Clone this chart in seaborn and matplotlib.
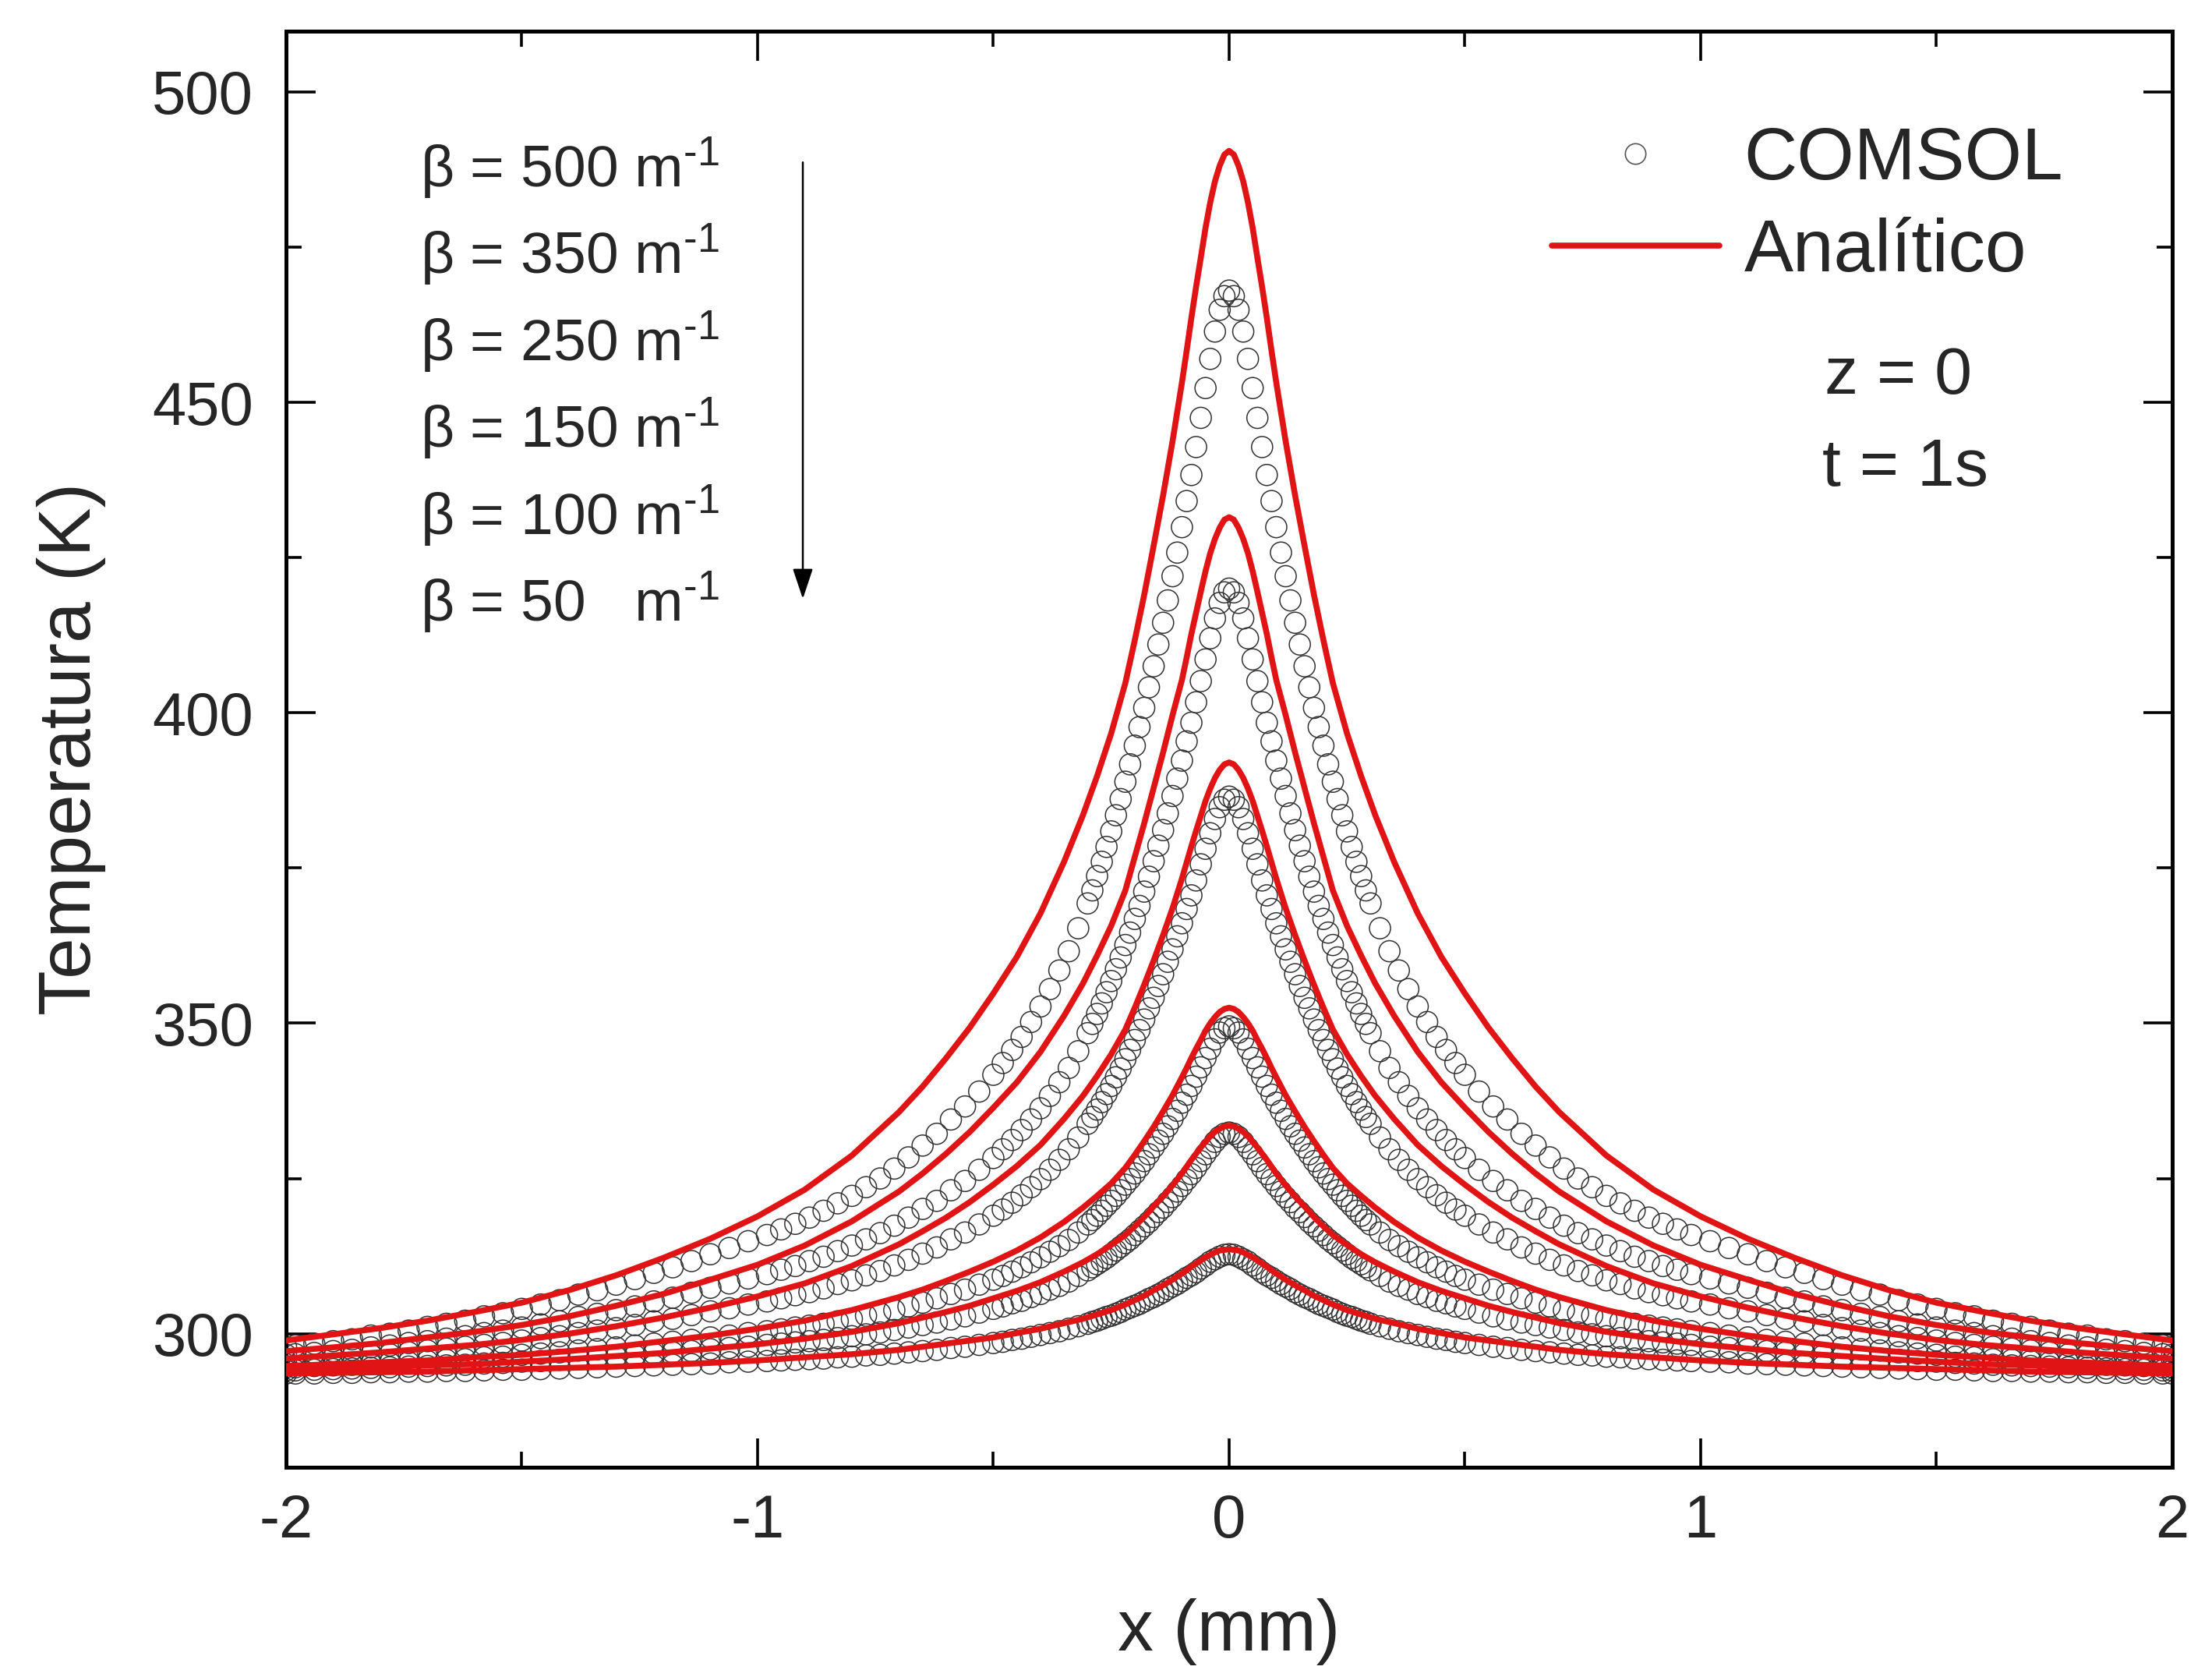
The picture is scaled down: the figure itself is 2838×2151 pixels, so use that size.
#!/usr/bin/env python3
"""Perfis de temperatura em z = 0, t = 1 s: COMSOL (círculos) vs solução analítica (linhas)."""

import matplotlib
matplotlib.use("Agg")
import matplotlib.pyplot as plt
from matplotlib.lines import Line2D
from matplotlib.ticker import AutoMinorLocator
import pandas as pd
import seaborn as sns

# Valores lidos no lado x >= 0 do gráfico (perfis simétricos em x = 0)
betas = ["500", "350", "250", "150", "100", "50"]

x_analitico = [0.00, 0.01, 0.02, 0.03, 0.04, 0.05, 0.06, 0.07, 0.08, 0.09,
               0.10, 0.12, 0.14, 0.16, 0.18, 0.20, 0.22, 0.25, 0.28, 0.31,
               0.35, 0.40, 0.45, 0.50, 0.55, 0.60, 0.65, 0.70, 0.80, 0.90,
               1.00, 1.10, 1.20, 1.30, 1.40, 1.50, 1.60, 1.70, 1.80, 1.90, 2.00]

T_analitico_500 = [490.5, 489.9, 488.1, 485.6, 482.2, 478.1, 473.3, 468.6, 463.6, 458.3,
                   453.2, 443.7, 435.0, 426.9, 419.0, 411.7, 404.8, 396.7, 389.8, 383.5,
                   376.0, 367.7, 360.7, 354.8, 349.3, 344.4, 339.8, 335.7, 328.7, 323.2,
                   318.9, 315.3, 312.2, 309.4, 307.0, 305.0, 303.5, 302.1, 300.9, 299.9, 298.9]
T_analitico_350 = [431.5, 431.1, 429.8, 428.0, 425.7, 422.8, 419.5, 416.1, 412.7, 408.9,
                   405.3, 399.6, 393.6, 387.9, 382.2, 376.8, 371.4, 365.7, 360.9, 356.4,
                   351.2, 345.4, 340.5, 336.4, 332.5, 329.0, 325.8, 322.9, 318.1, 314.2,
                   311.1, 308.7, 306.4, 304.5, 302.8, 301.4, 300.3, 299.4, 298.5, 297.8, 297.2]
T_analitico_250 = [392.0, 391.7, 390.8, 389.5, 387.8, 385.8, 383.4, 381.0, 378.5, 375.9,
                   373.3, 368.5, 364.2, 360.1, 356.2, 352.5, 349.0, 345.0, 341.5, 338.3,
                   334.6, 330.4, 327.0, 324.0, 321.2, 318.7, 316.5, 314.4, 310.9, 308.1,
                   306.0, 304.2, 302.6, 301.2, 300.0, 299.0, 298.2, 297.6, 297.0, 296.5, 296.0]
T_analitico_150 = [352.5, 352.3, 351.8, 351.0, 350.0, 348.8, 347.3, 345.9, 344.4, 342.8,
                   341.3, 338.4, 335.8, 333.3, 331.0, 328.8, 326.7, 324.2, 322.2, 320.3,
                   318.0, 315.5, 313.4, 311.6, 310.0, 308.5, 307.1, 305.9, 303.8, 302.1,
                   300.8, 299.7, 298.8, 297.9, 297.2, 296.6, 296.2, 295.7, 295.4, 295.1, 294.8]
T_analitico_100 = [333.5, 333.4, 333.0, 332.5, 331.8, 330.9, 330.0, 329.0, 328.0, 326.9,
                   325.8, 323.9, 322.1, 320.5, 318.8, 317.3, 315.9, 314.3, 312.8, 311.5,
                   310.0, 308.3, 306.9, 305.7, 304.5, 303.5, 302.6, 301.7, 300.3, 299.2,
                   298.3, 297.6, 296.9, 296.4, 295.9, 295.5, 295.1, 294.9, 294.6, 294.4, 294.2]
T_analitico_50 = [313.6, 313.5, 313.4, 313.1, 312.7, 312.3, 311.8, 311.3, 310.8, 310.2,
                  309.7, 308.7, 307.8, 307.0, 306.1, 305.4, 304.7, 303.8, 303.1, 302.4,
                  301.7, 300.8, 300.1, 299.4, 298.9, 298.4, 297.9, 297.4, 296.7, 296.2,
                  295.7, 295.3, 295.0, 294.7, 294.5, 294.3, 294.1, 293.9, 293.8, 293.7, 293.6]

x_comsol = [0.00, 0.01, 0.02, 0.03, 0.04, 0.05, 0.06, 0.07, 0.08, 0.09,
            0.10, 0.11, 0.12, 0.13, 0.14, 0.15, 0.16, 0.17, 0.18, 0.19,
            0.20, 0.21, 0.22, 0.23, 0.24, 0.25, 0.26, 0.27, 0.28, 0.29,
            0.30, 0.32, 0.34, 0.36, 0.38, 0.40, 0.42, 0.44, 0.46, 0.48,
            0.50, 0.53, 0.56, 0.59, 0.62, 0.65, 0.68, 0.71, 0.74, 0.77,
            0.80, 0.83, 0.86, 0.89, 0.92, 0.95, 0.98, 1.02, 1.06, 1.10,
            1.14, 1.18, 1.22, 1.26, 1.30, 1.34, 1.38, 1.42, 1.46, 1.50,
            1.54, 1.58, 1.62, 1.66, 1.70, 1.74, 1.78, 1.82, 1.86, 1.90,
            1.94, 1.98, 2.00]

T_comsol_500 = [468.0, 467.1, 464.9, 461.4, 457.0, 452.3, 447.5, 442.8, 438.3, 434.1,
                429.9, 425.8, 422.0, 418.1, 414.5, 411.0, 407.5, 404.1, 400.8, 397.7,
                394.7, 391.7, 388.9, 386.1, 383.5, 380.9, 378.4, 376.0, 373.7, 371.4,
                369.3, 365.3, 361.6, 358.5, 355.5, 352.7, 350.2, 347.8, 345.7, 343.6,
                341.7, 339.0, 336.6, 334.5, 332.2, 330.3, 328.4, 326.6, 325.0, 323.6,
                322.2, 321.0, 319.8, 318.7, 317.7, 316.8, 315.9, 314.9, 313.8, 312.8,
                311.7, 310.7, 309.8, 308.8, 307.9, 307.0, 306.3, 305.4, 304.7, 304.0,
                303.3, 302.8, 302.1, 301.6, 301.1, 300.5, 300.0, 299.7, 299.1, 298.8,
                298.4, 298.1, 297.9]
T_comsol_350 = [420.0, 419.4, 417.7, 415.2, 412.0, 408.6, 405.1, 401.7, 398.4, 395.4,
                392.3, 389.4, 386.6, 383.8, 381.1, 378.6, 376.1, 373.6, 371.2, 368.9,
                366.8, 364.6, 362.6, 360.6, 358.7, 356.8, 355.0, 353.2, 351.5, 349.9,
                348.4, 345.5, 342.8, 340.5, 338.3, 336.3, 334.5, 332.8, 331.2, 329.7,
                328.3, 326.4, 324.6, 323.1, 321.4, 320.1, 318.7, 317.4, 316.2, 315.2,
                314.2, 313.3, 312.4, 311.7, 310.9, 310.3, 309.6, 308.9, 308.1, 307.4,
                306.6, 305.8, 305.2, 304.4, 303.8, 303.2, 302.7, 302.0, 301.5, 301.0,
                300.5, 300.1, 299.6, 299.2, 298.8, 298.5, 298.1, 297.8, 297.4, 297.2,
                296.9, 296.7, 296.6]
T_comsol_250 = [386.5, 386.0, 384.8, 382.9, 380.6, 378.1, 375.6, 373.0, 370.6, 368.4,
                366.1, 364.0, 361.9, 359.9, 357.9, 356.0, 354.1, 352.4, 350.6, 348.9,
                347.3, 345.7, 344.2, 342.7, 341.3, 339.9, 338.6, 337.3, 336.1, 334.9,
                333.8, 331.6, 329.7, 328.0, 326.4, 324.9, 323.6, 322.3, 321.1, 320.0,
                319.0, 317.6, 316.3, 315.2, 313.9, 312.9, 311.9, 311.0, 310.1, 309.4,
                308.6, 308.0, 307.3, 306.7, 306.2, 305.7, 305.2, 304.7, 304.1, 303.6,
                303.0, 302.4, 302.0, 301.4, 300.9, 300.5, 300.1, 299.6, 299.3, 298.9,
                298.5, 298.2, 297.9, 297.6, 297.3, 297.0, 296.7, 296.6, 296.3, 296.1,
                295.9, 295.7, 295.6]
T_comsol_150 = [349.5, 349.2, 348.5, 347.4, 345.9, 344.4, 342.9, 341.4, 339.9, 338.5,
                337.2, 335.9, 334.6, 333.4, 332.2, 331.1, 330.0, 328.9, 327.8, 326.8,
                325.8, 324.9, 324.0, 323.1, 322.2, 321.4, 320.6, 319.8, 319.0, 318.3,
                317.6, 316.3, 315.1, 314.1, 313.2, 312.3, 311.5, 310.7, 310.0, 309.3,
                308.7, 307.9, 307.1, 306.4, 305.7, 305.0, 304.4, 303.8, 303.3, 302.9,
                302.4, 302.0, 301.6, 301.3, 301.0, 300.7, 300.4, 300.1, 299.7, 299.4,
                299.0, 298.7, 298.4, 298.1, 297.8, 297.5, 297.3, 297.0, 296.8, 296.6,
                296.3, 296.2, 295.9, 295.8, 295.6, 295.4, 295.3, 295.1, 295.0, 294.9,
                294.8, 294.6, 294.6]
T_comsol_100 = [332.4, 332.2, 331.7, 330.9, 329.9, 328.9, 327.8, 326.7, 325.7, 324.8,
                323.8, 322.9, 322.0, 321.2, 320.3, 319.6, 318.8, 318.0, 317.3, 316.6,
                315.9, 315.2, 314.6, 314.0, 313.4, 312.8, 312.2, 311.7, 311.2, 310.7,
                310.2, 309.3, 308.4, 307.7, 307.1, 306.4, 305.9, 305.3, 304.9, 304.4,
                304.0, 303.4, 302.8, 302.3, 301.8, 301.4, 301.0, 300.6, 300.2, 299.9,
                299.6, 299.3, 299.0, 298.8, 298.6, 298.4, 298.2, 297.9, 297.7, 297.5,
                297.2, 297.0, 296.8, 296.5, 296.3, 296.2, 296.0, 295.8, 295.6, 295.5,
                295.3, 295.2, 295.0, 294.9, 294.8, 294.7, 294.6, 294.5, 294.4, 294.3,
                294.2, 294.1, 294.1]
T_comsol_50 = [312.8, 312.7, 312.4, 312.0, 311.6, 311.0, 310.5, 309.9, 309.4, 309.0,
               308.5, 308.0, 307.6, 307.2, 306.7, 306.3, 305.9, 305.6, 305.2, 304.8,
               304.5, 304.2, 303.9, 303.5, 303.2, 302.9, 302.7, 302.4, 302.1, 301.9,
               301.6, 301.2, 300.8, 300.4, 300.1, 299.8, 299.5, 299.2, 299.0, 298.7,
               298.5, 298.2, 297.9, 297.7, 297.4, 297.2, 297.0, 296.8, 296.6, 296.5,
               296.3, 296.2, 296.0, 295.9, 295.8, 295.7, 295.6, 295.5, 295.4, 295.2,
               295.1, 295.0, 294.9, 294.8, 294.7, 294.6, 294.5, 294.4, 294.3, 294.2,
               294.2, 294.1, 294.0, 294.0, 293.9, 293.9, 293.8, 293.8, 293.7, 293.7,
               293.6, 293.6, 293.6]

T_analitico = [T_analitico_500, T_analitico_350, T_analitico_250,
               T_analitico_150, T_analitico_100, T_analitico_50]
T_comsol = [T_comsol_500, T_comsol_350, T_comsol_250,
            T_comsol_150, T_comsol_100, T_comsol_50]

RED = "#e01414"


def espelhar(xs, ts, beta):
    """Monta o perfil completo (-x ... x) a partir do lado x >= 0."""
    x_full = [-v for v in xs[:0:-1]] + list(xs)
    t_full = list(ts[:0:-1]) + list(ts)
    return pd.DataFrame({"x": x_full, "T": t_full, "beta": beta})


def main():
    sns.set_style("ticks")
    plt.rcParams["font.family"] = ["Liberation Sans", "DejaVu Sans"]
    plt.rcParams["mathtext.fontset"] = "custom"
    plt.rcParams["mathtext.rm"] = "Liberation Sans"
    plt.rcParams["mathtext.it"] = "Liberation Sans:italic"
    plt.rcParams["axes.unicode_minus"] = False

    df_an = pd.concat([espelhar(x_analitico, t, b) for t, b in zip(T_analitico, betas)])
    df_cs = pd.concat([espelhar(x_comsol, t, b) for t, b in zip(T_comsol, betas)])

    fig = plt.figure(figsize=(28.38, 21.51), dpi=100)
    ax = fig.add_axes([0.1293, 0.1251, 0.8527, 0.8564])

    sns.scatterplot(data=df_cs, x="x", y="T", marker="o", s=380,
                    facecolors="none", edgecolors="#333333", linewidths=1.1,
                    legend=False, ax=ax, zorder=2)
    sns.lineplot(data=df_an, x="x", y="T", units="beta", estimator=None, sort=False,
                 color=RED, lw=5.5, legend=False, ax=ax, zorder=3)

    ax.set_xlim(-2, 2)
    ax.set_ylim(278.5, 509.8)
    ax.set_xticks([-2, -1, 0, 1, 2])
    ax.set_xticklabels(["-2", "-1", "0", "1", "2"])
    ax.set_yticks([300, 350, 400, 450, 500])
    ax.xaxis.set_minor_locator(AutoMinorLocator(2))
    ax.yaxis.set_minor_locator(AutoMinorLocator(2))
    ax.tick_params(which="both", direction="in", top=True, right=True,
                   width=2.6, color="black", labelsize=56)
    ax.tick_params(which="major", length=27)
    ax.tick_params(which="minor", length=14.5)
    ax.tick_params(axis="x", pad=24)
    ax.tick_params(axis="y", pad=30)
    for sp in ax.spines.values():
        sp.set_linewidth(3.6)
        sp.set_color("black")

    ax.set_xlabel("x (mm)", fontsize=66)
    ax.set_ylabel("Temperatura (K)", fontsize=68)
    ax.xaxis.set_label_coords(0.5, -0.091)
    ax.yaxis.set_label_coords(-0.0955, 0.5)

    # Anotações de beta e seta
    linhas_beta = ["β = 500 m$^{‐1}$", "β = 350 m$^{‐1}$", "β = 250 m$^{‐1}$",
                   "β = 150 m$^{‐1}$", "β = 100 m$^{‐1}$", "β = 50   m$^{‐1}$"]
    for i, txt in enumerate(linhas_beta):
        ax.text(-1.716, 484.7 - 14.0 * i, txt, fontsize=54, ha="left", va="baseline")
    ax.annotate("", xy=(-0.904, 418.0), xytext=(-0.904, 489.0),
                arrowprops=dict(arrowstyle="-|>,head_length=0.6,head_width=0.2",
                                color="black", lw=1.8, mutation_scale=40))

    ax.text(1.263, 451.4, "z = 0", fontsize=62, ha="left", va="baseline")
    ax.text(1.258, 436.6, "t = 1s", fontsize=62, ha="left", va="baseline")

    handles = [
        Line2D([], [], marker="o", ls="none", mfc="none", mec="#555555", ms=19, mew=1.2),
        Line2D([], [], color=RED, lw=5.5),
    ]
    fig.legend(handles, ["COMSOL", "Analítico"], loc="upper left",
               bbox_to_anchor=(0.7016, 0.925), bbox_transform=fig.transFigure,
               frameon=False, fontsize=68, borderpad=0, borderaxespad=0,
               handlelength=2.27, handletextpad=0.34, labelspacing=0.30)

    fig.savefig("out.png", dpi=100)


if __name__ == "__main__":
    main()
